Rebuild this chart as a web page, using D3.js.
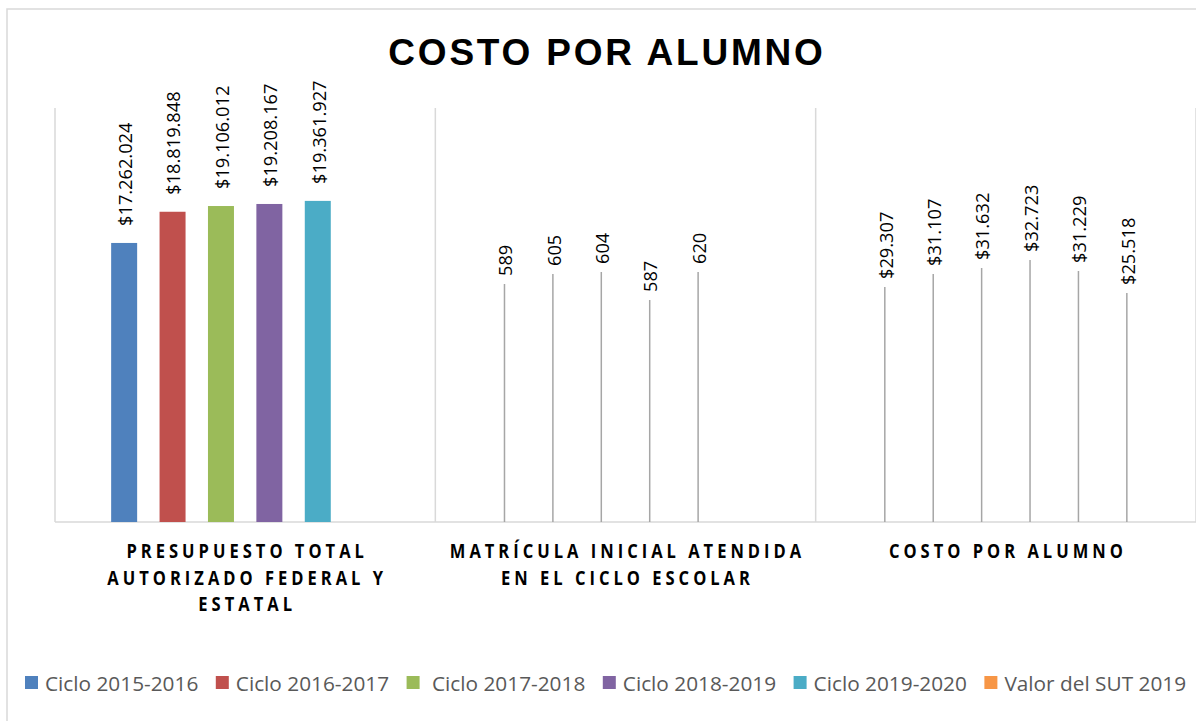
<!DOCTYPE html>
<html><head><meta charset="utf-8">
<script src="https://cdn.jsdelivr.net/npm/d3@7"></script>
<style>body{margin:0;background:#fff;overflow:hidden} svg{display:block}</style>
</head><body><svg id="c" width="1196" height="721"></svg>
<script>
// ---------- data ----------
const title = "COSTO POR ALUMNO";
const categories = [
  ["PRESUPUESTO TOTAL", "AUTORIZADO FEDERAL Y", "ESTATAL"],
  ["MATRÍCULA INICIAL ATENDIDA", "EN EL CICLO ESCOLAR"],
  ["COSTO POR ALUMNO"]
];
const seriesNames = ["Ciclo 2015-2016", "Ciclo 2016-2017", " Ciclo 2017-2018", "Ciclo 2018-2019", "Ciclo 2019-2020", "Valor del SUT 2019"];
const ciclo2015 = [17262024, 589, 29307];
const ciclo2016 = [18819848, 605, 31107];
const ciclo2017 = [19106012, 604, 31632];
const ciclo2018 = [19208167, 587, 32723];
const ciclo2019 = [19361927, 620, 31229];
const valorSUT  = [null, null, 25518];
const currencyCategory = [true, false, true];
const yAxisMin = 3330000, yAxisMax = 24000000;

// ---------- style / layout ----------
const seriesColors = ["#4f81bd", "#c0504d", "#9bbb59", "#8064a2", "#4bacc6", "#f79646"];
// manually dragged data-label leader lines (px above baseline), as placed in the original
const leaderLift = [
  [null, 238, 235],
  [null, 248, 248],
  [null, 250, 254],
  [null, 222, 262],
  [null, 250, 251],
  [null, null, 229]
];
const W = 1196, H = 721;
const plot = {left: 55, right: 1196, top: 108, bottom: 522};
const gridColor = "#d9d9d9";
const valFont = "'Open Sans', sans-serif";

const seriesValues = [ciclo2015, ciclo2016, ciclo2017, ciclo2018, ciclo2019, valorSUT];

const loc = d3.formatLocale({decimal: ",", thousands: ".", grouping: [3], currency: ["$", ""]});
const fmtCur = loc.format("$,.0f"), fmtNum = loc.format(",.0f");

const svg = d3.select("#c");

// chart border
svg.append("rect").attr("x", 7).attr("y", 9).attr("width", W + 20).attr("height", H + 20)
  .attr("fill", "#fff").attr("stroke", gridColor).attr("stroke-width", 1.5);

// title
svg.append("text").attr("x", 607).attr("y", 65).attr("text-anchor", "middle")
  .style("font-family", "'Liberation Sans', Arial, sans-serif").style("font-weight", "bold")
  .style("font-size", "37px").style("letter-spacing", "2.8px").attr("fill", "#000").text(title);

const x0 = d3.scaleBand().domain(d3.range(categories.length)).range([plot.left, plot.right]).padding(0);
const x1 = d3.scaleBand().domain(d3.range(seriesNames.length)).range([0, x0.bandwidth()])
  .paddingInner(0.463).paddingOuter(1.16);
const y = d3.scaleLinear().domain([yAxisMin, yAxisMax]).range([plot.bottom, plot.top]);

// vertical category gridlines
const bounds = d3.range(categories.length + 1).map(i => i < categories.length ? x0(i) : plot.right);
svg.append("g").selectAll("line").data(bounds).join("line")
  .attr("x1", d => d).attr("x2", d => d).attr("y1", plot.top).attr("y2", plot.bottom)
  .attr("stroke", gridColor).attr("stroke-width", 1.5);
// category axis line
svg.append("line").attr("x1", plot.left).attr("x2", plot.right).attr("y1", plot.bottom).attr("y2", plot.bottom)
  .attr("stroke", gridColor).attr("stroke-width", 1.5);

// bars
const cells = [];
seriesValues.forEach((vals, s) => vals.forEach((v, c) => { if (v !== null) cells.push({s, c, v}); }));
const bw = x1.bandwidth();
svg.append("g").selectAll("rect").data(cells).join("rect")
  .attr("x", d => x0(d.c) + x1(d.s)).attr("width", bw)
  .attr("y", d => Math.min(plot.bottom, y(d.v)))
  .attr("height", d => Math.max(0, plot.bottom - y(d.v)))
  .attr("fill", d => seriesColors[d.s]);

// leader lines + labels
const valSize = 19;
const capHalf = 0.714 * valSize / 2;
const lg = svg.append("g");
cells.forEach(d => {
  const cx = x0(d.c) + x1(d.s) + bw / 2;
  const lift = leaderLift[d.s][d.c];
  let startY;
  if (lift !== null && lift !== undefined) {
    const top = plot.bottom - lift;
    lg.append("line").attr("x1", cx).attr("x2", cx).attr("y1", plot.bottom).attr("y2", top)
      .attr("stroke", "#a6a6a6").attr("stroke-width", 1.5);
    startY = top - 8;
  } else {
    startY = y(d.v) - 17;
  }
  lg.append("text")
    .attr("transform", `translate(${cx + 1 + capHalf},${startY}) rotate(-90) scale(0.96,1)`)
    .style("font-family", valFont).style("font-size", valSize + "px").attr("fill", "#000")
    .text(currencyCategory[d.c] ? fmtCur(d.v) : fmtNum(d.v));
});

// category labels
const cg = svg.append("g");
categories.forEach((lines, c) => {
  const cx = x0(c) + x0.bandwidth() / 2;
  lines.forEach((ln, i) => {
    cg.append("text").attr("transform", `translate(${cx + 2},${558 + i * 26.5}) scale(0.87,1)`)
      .attr("text-anchor", "middle")
      .style("font-family", valFont).style("font-weight", "bold").style("font-size", "19px")
      .style("letter-spacing", "4.6px").attr("fill", "#000").text(ln);
  });
});

// legend
const leg = svg.append("g");
let lx = 25;
seriesNames.forEach((name, s) => {
  leg.append("rect").attr("x", lx).attr("y", 676).attr("width", 13).attr("height", 13).attr("fill", seriesColors[s]);
  const t = leg.append("text").attr("x", lx + 20).attr("y", 690.5)
    .style("font-family", valFont).style("font-size", "20.8px").style("white-space", "pre")
    .attr("fill", "#595959").text(name);
  lx += 20 + t.node().getComputedTextLength() + 17.5;
});
</script>
</body></html>
